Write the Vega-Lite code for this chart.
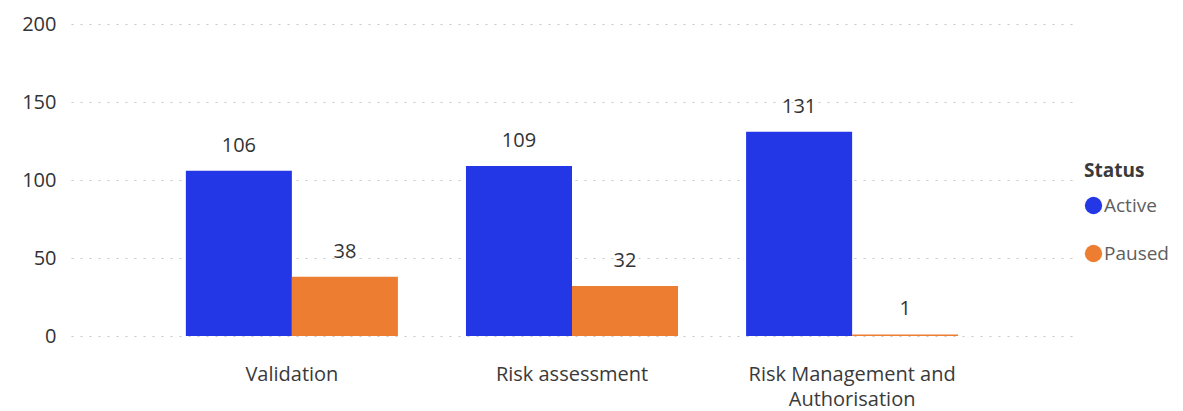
{
  "$schema": "https://vega.github.io/schema/vega-lite/v6.json",
  "autosize": {"type": "none"},
  "padding": {"left": 71, "top": 24, "right": 110, "bottom": 75},
  "width": 1002,
  "height": 312,
  "background": "white",
  "config": {
    "font": "Open Sans",
    "view": {"stroke": null},
    "axis": {"labelFont": "Open Sans", "labelColor": "#333333", "labelFontSize": 20}
  },
  "data": {
    "values": [
      {"Stage": "Validation", "Status": "Active", "Count": 106},
      {"Stage": "Validation", "Status": "Paused", "Count": 38},
      {"Stage": "Risk assessment", "Status": "Active", "Count": 109},
      {"Stage": "Risk assessment", "Status": "Paused", "Count": 32},
      {"Stage": "Risk Management and Authorisation", "Status": "Active", "Count": 131},
      {"Stage": "Risk Management and Authorisation", "Status": "Paused", "Count": 1}
    ]
  },
  "encoding": {
    "x": {
      "field": "Stage", "type": "nominal", "sort": null, "title": null,
      "scale": {"paddingInner": 0.243, "paddingOuter": 0.41},
      "axis": {
        "labelAngle": 0, "domain": false, "ticks": false, "labelPadding": 28,
        "labelLineHeight": 25, "labelFontSize": 20, "labelColor": "#3a3a3a", "labelLimit": 400,
        "labelExpr": "datum.label == 'Risk Management and Authorisation' ? ['Risk Management and', 'Authorisation'] : datum.label"
      }
    },
    "xOffset": {"field": "Status", "type": "nominal"},
    "y": {
      "field": "Count", "type": "quantitative", "title": null,
      "scale": {"domain": [0, 200]},
      "axis": {
        "values": [0, 50, 100, 150, 200], "domain": false, "ticks": false,
        "labelFontSize": 20,
        "labelPadding": 15, "gridColor": "#c8c8c8", "gridDash": [2, 7], "gridWidth": 1.2
      }
    }
  },
  "layer": [
    {
      "mark": {"type": "bar"},
      "encoding": {
        "color": {
          "field": "Status", "type": "nominal",
          "scale": {"domain": ["Active", "Paused"], "range": ["#2337E6", "#ED7D31"]},
          "legend": {
            "orient": "none", "legendX": 1013, "legendY": 138,
            "title": "Status", "titleFontSize": 19, "titleFontWeight": "bold", "titleColor": "#3a3a3a",
            "titleFont": "Open Sans", "titlePadding": 15,
            "labelFontSize": 19, "labelColor": "#605E5C", "labelFont": "Open Sans",
            "symbolType": "circle", "symbolSize": 300, "symbolStrokeWidth": 0,
            "rowPadding": 28, "labelOffset": 1
          }
        }
      }
    },
    {
      "mark": {"type": "text", "dy": -25, "fontSize": 20, "color": "#333333", "font": "Open Sans"},
      "encoding": {"text": {"field": "Count", "type": "quantitative"}}
    }
  ]
}
